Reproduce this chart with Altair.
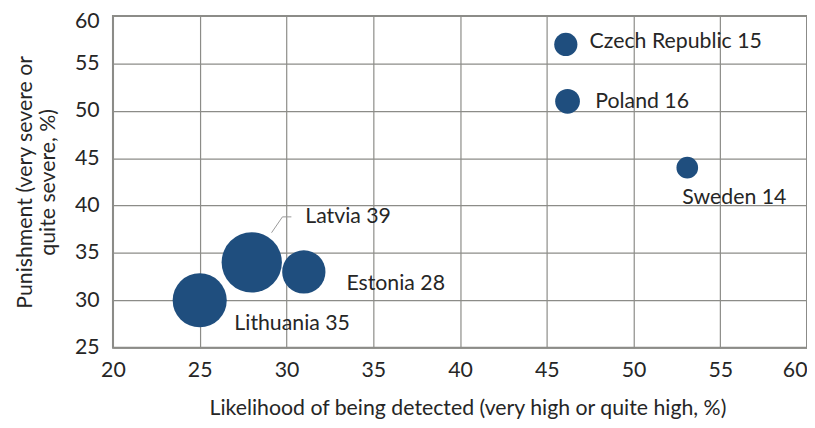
import altair as alt
import pandas as pd

countries = ["Czech Republic", "Poland", "Sweden", "Latvia", "Estonia", "Lithuania"]
detected = [46.1, 46.2, 53.1, 28.0, 31.0, 25.0]
punishment = [57.0, 51.0, 44.0, 34.0, 33.0, 30.0]
bubble = [15, 16, 14, 39, 28, 35]

df = pd.DataFrame({
    "country": countries,
    "x": detected,
    "y": punishment,
    "size": bubble,
})
df["label"] = df["country"] + " " + df["size"].astype(str)

FONT = "Lato"
BLUE = "#1f4e7e"
GRID = "#8c8c88"
TXT = "#262626"
FS = 21.5

x_enc = alt.X("x:Q", scale=alt.Scale(domain=[20, 60], nice=False),
              axis=alt.Axis(values=list(range(20, 61, 5)),
                            title="Likelihood of being detected (very high or quite high, %)",
                            titlePadding=17, labelPadding=12, labelFlush=False,
                            titleX=358, titleAlign="center",
                            labelAlign=alt.expr("datum.value == 60 ? 'right' : 'center'")))
y_enc = alt.Y("y:Q", scale=alt.Scale(domain=[25, 60], nice=False),
              axis=alt.Axis(values=list(range(25, 61, 5)),
                            title=["Punishment (very severe or", "quite severe, %)"],
                            titlePadding=15, labelPadding=14, titleLineHeight=23,
                            labelOffset=alt.expr("datum.value == 60 ? 6 : 0")))

base = alt.Chart(df)

points = base.mark_circle(opacity=1, color=BLUE).encode(
    x=x_enc,
    y=y_enc,
    size=alt.Size("size:Q", scale=alt.Scale(type="pow", exponent=2, domain=[0, 40],
                                            range=[0, 3900]), legend=None),
)

label_offsets = {
    "Czech Republic": (24, -2, "left"),
    "Poland": (28, 1, "left"),
    "Sweden": (-5, 31, "left"),
    "Latvia": (54, -46, "left"),
    "Estonia": (43, 12, "left"),
    "Lithuania": (35, 24, "left"),
}

layers = [points]
for c, (dx, dy, al) in label_offsets.items():
    layers.append(
        base.transform_filter(alt.datum.country == c).mark_text(
            dx=dx, dy=dy, align=al, baseline="middle", font=FONT, fontSize=FS,
            color=TXT
        ).encode(x="x:Q", y="y:Q", text="label:N")
    )

leader1 = base.transform_filter(alt.datum.country == "Latvia").mark_rule(
    color="#999999", strokeWidth=1, xOffset=20, yOffset=-30, x2Offset=31, y2Offset=-46
).encode(x="x:Q", y="y:Q", x2="x:Q", y2="y:Q")
leader2 = base.transform_filter(alt.datum.country == "Latvia").mark_rule(
    color="#999999", strokeWidth=1, xOffset=31, yOffset=-46, x2Offset=40, y2Offset=-46
).encode(x="x:Q", y="y:Q", x2="x:Q", y2="y:Q")
layers += [leader1, leader2]

chart = alt.layer(*layers).properties(
    width=701, height=335,
    autosize=alt.AutoSizeParams(type="none"),
    padding={"left": 106, "top": 6, "right": 0, "bottom": 79},
).configure_view(
    stroke=GRID, strokeWidth=2
).configure_axis(
    labelFont=FONT, titleFont=FONT, labelFontSize=FS, titleFontSize=FS,
    labelColor=TXT, titleColor=TXT, titleFontWeight="normal",
    grid=True, gridColor=GRID, gridWidth=1.2, gridOpacity=1,
    domain=False, ticks=False,
)

chart.save("out.html", embed_options={"renderer": "svg", "actions": False})
